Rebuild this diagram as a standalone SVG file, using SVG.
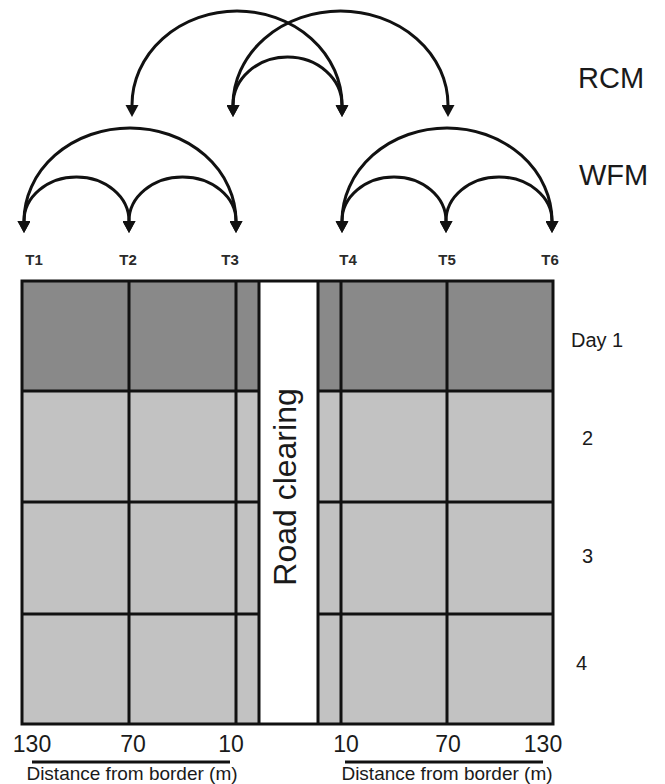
<svg xmlns="http://www.w3.org/2000/svg" width="665" height="784" viewBox="0 0 665 784">
<style>
text{font-family:"Liberation Sans",Arial,sans-serif;fill:#1a1a1a}
.arc{fill:none;stroke:#111;stroke-width:3;marker-start:url(#ah);marker-end:url(#ah)}
.gl{stroke:#111;stroke-width:3;fill:none}
.tl{font-size:15px;font-weight:bold;text-anchor:middle;fill:#2a2a2a}
.num{font-size:23px;text-anchor:middle}
.dist{font-size:19px;text-anchor:middle}
.day{font-size:20px}
.big{font-size:29px}
</style>
<defs>
<marker id="ah" markerUnits="userSpaceOnUse" markerWidth="12" markerHeight="13" viewBox="0 0 12 13" refX="0" refY="6.5" orient="auto-start-reverse">
<path d="M0,0 L12,6.5 L0,13 z" fill="#111"/>
</marker>
</defs>
<rect width="665" height="784" fill="#fff"/>

<g id="connectors">
<path class="arc" d="M132,105 A105,94 0 0 1 342,105"/>
<path class="arc" d="M233,105 A107.5,94 0 0 1 448,105"/>
<path class="arc" d="M233,105 A54.5,48 0 0 1 342,105"/>
<path class="arc" d="M24,221 A106,93 0 0 1 236,221"/>
<path class="arc" d="M24,221 A52.5,44 0 0 1 129,221"/>
<path class="arc" d="M129,221 A53.5,44 0 0 1 236,221"/>
<path class="arc" d="M342,221 A105,93 0 0 1 552,221"/>
<path class="arc" d="M342,221 A52,44 0 0 1 446,221"/>
<path class="arc" d="M446,221 A53,44 0 0 1 552,221"/>
</g>

<g id="legend">
<text class="big" x="578" y="88">RCM</text>
<text class="big" x="579" y="185">WFM</text>
</g>

<g id="T1"><text class="tl" x="34" y="265">T1</text></g>
<g id="T2"><text class="tl" x="128" y="265">T2</text></g>
<g id="T3"><text class="tl" x="230" y="265">T3</text></g>
<g id="T4"><text class="tl" x="348" y="265">T4</text></g>
<g id="T5"><text class="tl" x="447" y="265">T5</text></g>
<g id="T6"><text class="tl" x="550" y="265">T6</text></g>

<g id="grid">
<rect x="22" y="281" width="531" height="110" fill="#898989"/>
<rect x="22" y="391" width="531" height="333" fill="#c2c2c2"/>
<rect x="259" y="281" width="59" height="443" fill="#fff"/>
<rect class="gl" x="22" y="281" width="531" height="443"/>
<path class="gl" d="M129,281V724 M236,281V724 M259,281V724 M318,281V724 M341,281V724 M447,281V724"/>
<path class="gl" d="M22,391H259 M22,502H259 M22,614H259 M318,391H553 M318,502H553 M318,614H553"/>
<text transform="translate(296,487) rotate(-90)" style="font-size:32px;text-anchor:middle">Road clearing</text>
</g>

<g id="days">
<text class="day" x="571" y="347">Day 1</text>
<text class="day" x="582" y="445">2</text>
<text class="day" x="582" y="563">3</text>
<text class="day" x="576" y="670">4</text>
</g>

<g id="axis">
<text class="num" x="32" y="752">130</text>
<text class="num" x="133" y="752">70</text>
<text class="num" x="231" y="752">10</text>
<text class="num" x="346" y="752">10</text>
<text class="num" x="448" y="752">70</text>
<text class="num" x="543" y="752">130</text>
<path d="M32,762H230 M345,762H543" stroke="#111" stroke-width="3"/>
<text class="dist" x="132" y="780">Distance from border (m)</text>
<text class="dist" x="447" y="780">Distance from border (m)</text>
</g>
</svg>
